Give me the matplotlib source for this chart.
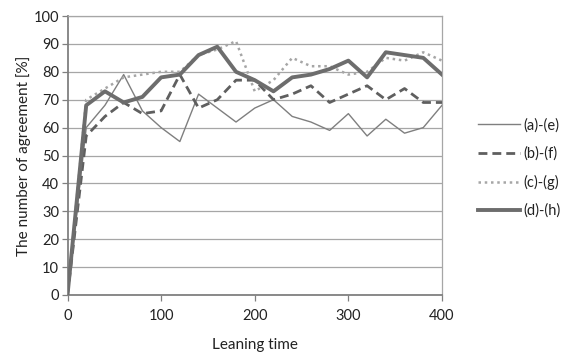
import matplotlib
matplotlib.use("Agg")
import matplotlib.pyplot as plt

plt.rcParams['font.family'] = ['Lato', 'DejaVu Sans']

x = [0, 20, 40, 60, 80, 100, 120, 140, 160, 180, 200, 220, 240, 260, 280, 300, 320, 340, 360, 380, 400]
a_e = [0, 60, 68, 79, 66, 60, 55, 72, 67, 62, 67, 70, 64, 62, 59, 65, 57, 63, 58, 60, 68]
b_f = [0, 57, 64, 69, 65, 66, 79, 67, 70, 77, 77, 70, 72, 75, 69, 72, 75, 70, 74, 69, 69]
c_g = [0, 70, 74, 78, 79, 80, 80, 86, 88, 91, 73, 77, 85, 82, 82, 79, 80, 85, 84, 87, 84]
d_h = [0, 68, 73, 69, 71, 78, 79, 86, 89, 80, 77, 73, 78, 79, 81, 84, 78, 87, 86, 85, 79]
labels = ['(a)-(e)', '(b)-(f)', '(c)-(g)', '(d)-(h)']
xticks = [0, 100, 200, 300, 400]
yticks = list(range(0, 101, 10))

fig = plt.figure(figsize=(5.64, 3.52), dpi=100)
ax = fig.add_axes([67.5/564, 57/352, (442-67.5)/564, (295-16)/352])

ax.plot(x, a_e, color='#7f7f7f', lw=1.0, label=labels[0], zorder=3)
ax.plot(x, b_f, color='#5f5f5f', lw=2.0, ls=(0, (3.2, 1.8)), label=labels[1], zorder=3)
ax.plot(x, c_g, color='#a6a6a6', lw=1.8, ls=(0, (1, 1.5)), label=labels[2], zorder=3)
ax.plot(x, d_h, color='#6d6d6d', lw=2.8, label=labels[3], zorder=4)

ax.set_xlim(0, 400)
ax.set_ylim(0, 100)
ax.set_xticks(xticks)
ax.set_yticks(yticks)
ax.grid(axis='y', color='#a6a6a6', lw=0.9)
ax.set_axisbelow(True)

for s in ['left', 'bottom']:
    ax.spines[s].set_color('#808080')
    ax.spines[s].set_linewidth(1.3)
for s in ['top', 'right']:
    ax.spines[s].set_color('#a6a6a6')
    ax.spines[s].set_linewidth(0.9)

ax.tick_params(axis='both', colors='#808080', labelcolor='#222222', labelsize=10.5, length=4, width=0.9)
ax.tick_params(axis='x', pad=6)
ax.tick_params(axis='y', pad=2)

ax.set_xlabel('Leaning time', fontsize=11, color='#222222', labelpad=11)
ax.set_ylabel('The number of agreement [%]', fontsize=11, color='#222222', labelpad=2)

leg = ax.legend(loc='center left', bbox_to_anchor=(1.06, 0.455), frameon=False,
                fontsize=10.5, handlelength=2.9, handletextpad=0.25, labelspacing=0.95)
for t in leg.get_texts():
    t.set_color('#222222')

fig.savefig('out.png', dpi=100)
